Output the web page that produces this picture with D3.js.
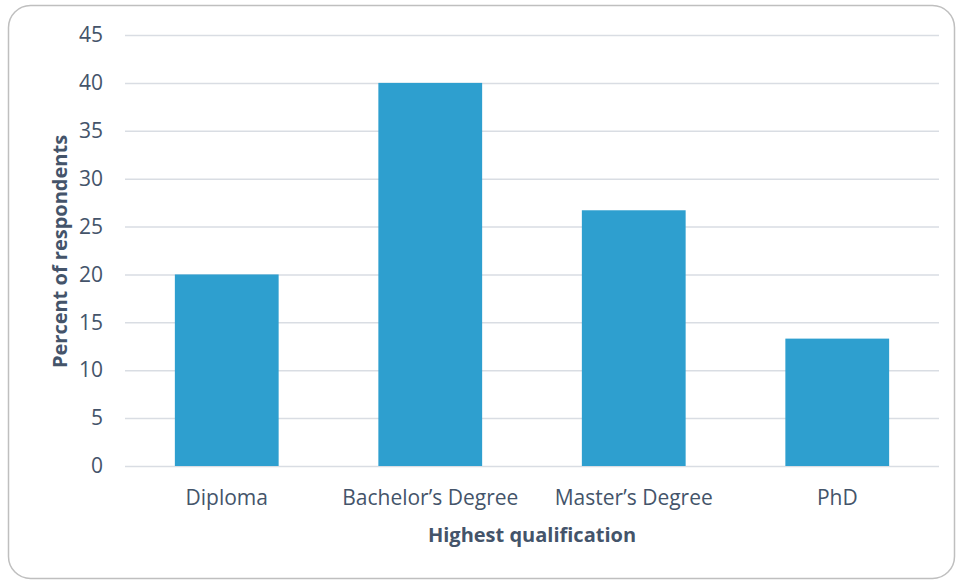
<!DOCTYPE html>
<html>
<head>
<meta charset="utf-8">
<script src="https://cdn.jsdelivr.net/npm/d3@7"></script>
<style>
  html, body { margin: 0; padding: 0; background: #fff; }
  svg { display: block; font-family: "Open Sans", sans-serif; }
</style>
</head>
<body>
<svg id="chart" width="959" height="581"></svg>
<script>
// Highest qualification of respondents (percent)
const categories = ["Diploma", "Bachelor\u2019s Degree", "Master\u2019s Degree", "PhD"];
const percents = [20, 40, 26.7, 13.3];
const yTicks = [0, 5, 10, 15, 20, 25, 30, 35, 40, 45];

const svg = d3.select("#chart");
const W = 959, H = 581;
const margin = { left: 125, right: 20, top: 35, bottom: 115 };
const textColor = "#44546a";
const font = "'Open Sans', sans-serif";

// Outer frame
svg.append("rect")
  .attr("x", 8.5).attr("y", 5.5)
  .attr("width", 946).attr("height", 573)
  .attr("rx", 22).attr("ry", 22)
  .attr("fill", "#fff")
  .attr("stroke", "#bfbfbf").attr("stroke-width", 1.5);

const x = d3.scaleBand()
  .domain(categories)
  .range([margin.left, W - margin.right])
  .paddingInner(0.49).paddingOuter(0.245);

const y = d3.scaleLinear()
  .domain([0, 45])
  .range([H - margin.bottom, margin.top]);

// Horizontal gridlines + y tick labels
const yAxis = d3.axisLeft(y)
  .tickValues(yTicks)
  .tickSize(-(W - margin.left - margin.right))
  .tickPadding(22);

const gy = svg.append("g")
  .attr("transform", `translate(${margin.left},0)`)
  .call(yAxis)
  .attr("font-family", font)
  .attr("font-size", 21);
gy.select(".domain").remove();
gy.selectAll(".tick line").attr("stroke", "#d9dde3").attr("stroke-width", 1.5);
gy.selectAll(".tick text").attr("fill", textColor);

// Bars
svg.append("g").selectAll("rect")
  .data(percents)
  .join("rect")
  .attr("x", (d, i) => x(categories[i]))
  .attr("y", d => y(d))
  .attr("width", x.bandwidth())
  .attr("height", d => y(0) - y(d))
  .attr("fill", "#2e9fcf");

// Category axis
const xAxis = d3.axisBottom(x).tickSize(0).tickPadding(24);
const gx = svg.append("g")
  .attr("transform", `translate(0,${y(0)})`)
  .call(xAxis)
  .attr("font-family", font)
  .attr("font-size", 21);
gx.select(".domain").remove();
gx.selectAll(".tick text").attr("fill", textColor);

// Axis titles
svg.append("text")
  .attr("x", (margin.left + W - margin.right) / 2)
  .attr("y", 542)
  .attr("text-anchor", "middle")
  .attr("fill", textColor)
  .attr("font-size", 20)
  .attr("font-weight", "bold")
  .text("Highest qualification");

svg.append("text")
  .attr("transform", `translate(67,${(margin.top + H - margin.bottom) / 2 + 1}) rotate(-90)`)
  .attr("text-anchor", "middle")
  .attr("fill", textColor)
  .attr("font-size", 20)
  .attr("font-weight", "bold")
  .text("Percent of respondents");
</script>
</body>
</html>
